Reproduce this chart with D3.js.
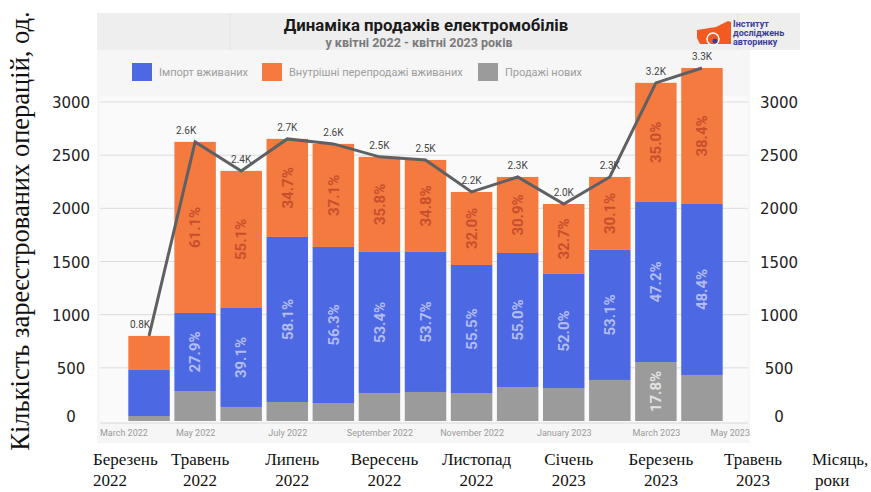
<!DOCTYPE html>
<html>
<head>
<meta charset="utf-8">
<script src="https://cdn.jsdelivr.net/npm/d3@7"></script>
<style>
  body { margin: 0; background: #fff; }
  svg { display: block; }
</style>
</head>
<body>
<div id="chart"></div>
<script>
// chart data
var months = ["Apr 2022", "May 2022", "Jun 2022", "Jul 2022", "Aug 2022", "Sep 2022", "Oct 2022",
              "Nov 2022", "Dec 2022", "Jan 2023", "Feb 2023", "Mar 2023", "Apr 2023"];
var newSales = [47, 282, 132, 179, 169, 263, 273, 263, 320, 310, 386, 555, 433];
var imported = [433, 734, 931, 1552, 1468, 1327, 1317, 1204, 1260, 1073, 1223, 1505, 1608];
var resale   = [320, 1609, 1289, 922, 969, 894, 865, 687, 715, 658, 686, 1120, 1279];

var importPct = [null, "27.9%", "39.1%", "58.1%", "56.3%", "53.4%", "53.7%", "55.5%", "55.0%", "52.0%", "53.1%", "47.2%", "48.4%"];
var resalePct = [null, "61.1%", "55.1%", "34.7%", "37.1%", "35.8%", "34.8%", "32.0%", "30.9%", "32.7%", "30.1%", "35.0%", "38.4%"];
var newPct    = [null, null, null, null, null, null, null, null, null, null, null, "17.8%", null];

var seriesNames = ["Імпорт вживаних", "Внутрішні перепродажі вживаних", "Продажі нових"];
var yTicks = [0, 500, 1000, 1500, 2000, 2500, 3000];

// small month axis inside the screenshot (index 0 = first bar)
var axisTickIdx = [-1, 1, 3, 5, 7, 9, 11, 13];
var axisTickLabels = ["March 2022", "May 2022", "July 2022", "September 2022", "November 2022",
                      "January 2023", "March 2023", "May 2023"];

// the outer annotation under the chart
var noteIdx = [-1, 1, 3, 5, 7, 9, 11, 13, 15];
var noteLine1 = ["Березень", "Травень", "Липень", "Вересень", "Листопад", "Січень", "Березень", "Травень", "Місяць,"];
var noteLine2 = ["2022", "2022", "2022", "2022", "2022", "2023", "2023", "2023", "роки"];

var W = 871, H = 492;
var colors = {imp: "#4d68e3", res: "#f47a3f", nw: "#9b9b9b"};

var svg = d3.select("#chart").append("svg")
  .attr("width", W).attr("height", H);

// panels of the screenshot
svg.append("rect").attr("x", 97).attr("y", 13).attr("width", 703).attr("height", 37).attr("fill", "#eeeeee");
svg.append("rect").attr("x", 97).attr("y", 50).attr("width", 653).attr("height", 393).attr("fill", "#f6f6f6");
svg.append("rect").attr("x", 100).attr("y", 96).attr("width", 648).attr("height", 327).attr("fill", "#fafafa");
svg.append("line").attr("x1", 230).attr("x2", 230).attr("y1", 13).attr("y2", 50).attr("stroke", "#e2e2e2");
svg.append("line").attr("x1", 738).attr("x2", 738).attr("y1", 13).attr("y2", 50).attr("stroke", "#e2e2e2");

var x = d3.scaleBand().domain(months).range([126, 725]).paddingInner(0.1).paddingOuter(0.05);
var y = d3.scaleLinear().domain([0, 3000]).range([421, 102]);
var bw = x.bandwidth();
var mx = d3.scaleLinear().domain([0, months.length - 1])
  .range([x(months[0]) + bw / 2, x(months[months.length - 1]) + bw / 2]);

// gridlines
svg.append("g").selectAll("line").data(yTicks.filter(function(d) { return d > 0; })).enter()
  .append("line")
    .attr("x1", 100).attr("x2", 748)
    .attr("y1", function(d) { return y(d); }).attr("y2", function(d) { return y(d); })
    .attr("stroke", "#dcdcdc").attr("stroke-width", 1);

// stacked bars
var rows = months.map(function(m, i) {
  return {month: m, nw: newSales[i], imp: imported[i], res: resale[i]};
});
var stack = d3.stack().keys(["nw", "imp", "res"])(rows);
var pctByKey = {nw: newPct, imp: importPct, res: resalePct};
var pctColor = {nw: "#e2e2e2", imp: "#b3bdf4", res: "#c94f2c"};

svg.append("g").selectAll("g").data(stack).enter()
  .append("g")
    .attr("fill", function(d) { return colors[d.key]; })
  .selectAll("rect").data(function(d) { return d; }).enter()
  .append("rect")
    .attr("x", function(d) { return x(d.data.month); })
    .attr("y", function(d) { return y(d[1]); })
    .attr("width", bw)
    .attr("height", function(d) { return y(d[0]) - y(d[1]); });

// percent labels inside segments
stack.forEach(function(s) {
  s.forEach(function(d, i) {
    var txt = pctByKey[s.key][i];
    if (!txt) return;
    var cx = x(d.data.month) + bw / 2, cy = (y(d[0]) + y(d[1])) / 2;
    svg.append("text")
      .attr("transform", "translate(" + cx + "," + cy + ") rotate(-90)")
      .attr("text-anchor", "middle").attr("dy", "0.35em")
      .style("font-family", "Roboto, 'Open Sans', sans-serif")
      .style("font-size", "15px").style("font-weight", "bold")
      .style("fill", pctColor[s.key])
      .text(txt);
  });
});

// total line
var totals = rows.map(function(r) { return r.nw + r.imp + r.res; });
svg.append("path")
  .datum(totals)
  .attr("fill", "none").attr("stroke", "#5e6064").attr("stroke-width", 3)
  .attr("d", d3.line()
    .x(function(d, i) { return mx(i); })
    .y(function(d) { return y(d); }));

svg.append("g").selectAll("text").data(totals).enter()
  .append("text")
    .attr("x", function(d, i) { return mx(i) - (i < 2 ? 9 : 0); })
    .attr("y", function(d) { return y(d) - 8; })
    .attr("text-anchor", "middle")
    .style("font-family", "Roboto, sans-serif").style("font-size", "10px")
    .style("fill", "#444")
    .text(function(d) { return (d / 1000).toFixed(1) + "K"; });

// month axis of the screenshot
svg.append("line").attr("x1", 100).attr("x2", 748).attr("y1", 423).attr("y2", 423).attr("stroke", "#d8d8d8");
var xAxis = svg.append("g")
  .attr("transform", "translate(0,423)")
  .call(d3.axisBottom(mx).tickValues(axisTickIdx).tickSize(0)
    .tickFormat(function(d, i) { return axisTickLabels[i]; }));
xAxis.select(".domain").remove();
xAxis.selectAll("text")
  .attr("dy", "1.1em")
  .style("font-family", "Roboto, sans-serif").style("font-size", "9px").style("fill", "#9a9a9a");
xAxis.selectAll(".tick").filter(function(d, i) { return i === 0; })
  .attr("transform", "translate(100,0)").select("text").attr("text-anchor", "start");
xAxis.selectAll(".tick").filter(function(d, i) { return i === axisTickIdx.length - 1; })
  .attr("transform", "translate(750,0)").select("text").attr("text-anchor", "end");

// title and subtitle
svg.append("text").attr("x", 426).attr("y", 31).attr("text-anchor", "middle")
  .style("font-family", "Roboto, sans-serif").style("font-size", "16.8px").style("font-weight", "bold")
  .style("fill", "#1a1a1a").text("Динаміка продажів електромобілів");
svg.append("text").attr("x", 419).attr("y", 47).attr("text-anchor", "middle")
  .style("font-family", "Roboto, sans-serif").style("font-size", "12.5px").style("font-weight", "bold")
  .style("fill", "#7a7a7a").text("у квітні 2022 - квітні 2023 років");

// legend
var legX = [132, 262, 478];
var legCol = [colors.imp, colors.res, colors.nw];
seriesNames.forEach(function(n, i) {
  svg.append("rect").attr("x", legX[i]).attr("y", 63).attr("width", 20).attr("height", 18)
    .attr("fill", legCol[i]);
  svg.append("text").attr("x", legX[i] + 27).attr("y", 76)
    .style("font-family", "Roboto, sans-serif").style("font-size", "11px").style("fill", "#9d9d9d")
    .text(n);
});

// logo
svg.append("path")
  .attr("d", "M697,30 L716,27 L728,21 L731,22 L731,44 L700,44 L697,38 Z")
  .attr("fill", "#f15a22");
svg.append("circle").attr("cx", 713).attr("cy", 39).attr("r", 6).attr("fill", "#f15a22")
  .attr("stroke", "#fff").attr("stroke-width", 1.5);
svg.append("circle").attr("cx", 715).attr("cy", 41).attr("r", 2.5).attr("fill", "#3a3f98");
["Інститут", "досліджень", "авторинку"].forEach(function(t, i) {
  svg.append("text").attr("x", 733).attr("y", 27 + i * 9)
    .style("font-family", "Roboto, sans-serif").style("font-size", "9px").style("font-weight", "bold")
    .style("fill", "#3a3f98").text(t);
});

// outer value axes (left and right)
[71, 779].forEach(function(ax) {
  svg.append("g").selectAll("text").data(yTicks).enter()
    .append("text")
      .attr("x", ax)
      .attr("y", function(d) { return y(d) - (d === 0 ? 5 : 0); })
      .attr("dy", "0.4em")
      .attr("text-anchor", "middle")
      .style("font-family", "'DejaVu Sans', sans-serif").style("font-size", "15px")
      .style("fill", "#222")
      .text(function(d) { return d; });
});

// outer axis title
svg.append("text")
  .attr("transform", "translate(29,231) rotate(-90)")
  .attr("text-anchor", "middle")
  .style("font-family", "'Liberation Serif', serif").style("font-size", "26.5px")
  .style("fill", "#111")
  .text("Кількість зареєстрованих операцій, од.");

// outer month annotation
noteIdx.forEach(function(k, i) {
  var first = i === 0, last = i === noteIdx.length - 1;
  var g = svg.append("text")
    .attr("text-anchor", first || last ? "start" : "middle")
    .style("font-family", "'Liberation Serif', serif").style("font-size", "17px")
    .style("fill", "#111");
  var xx = first ? 93 : (last ? 812 : mx(k) + 5);
  g.append("tspan").attr("x", xx).attr("y", 465).text(noteLine1[i]);
  g.append("tspan").attr("x", last ? xx + 3 : xx).attr("y", 486).text(noteLine2[i]);
});
</script>
</body>
</html>
